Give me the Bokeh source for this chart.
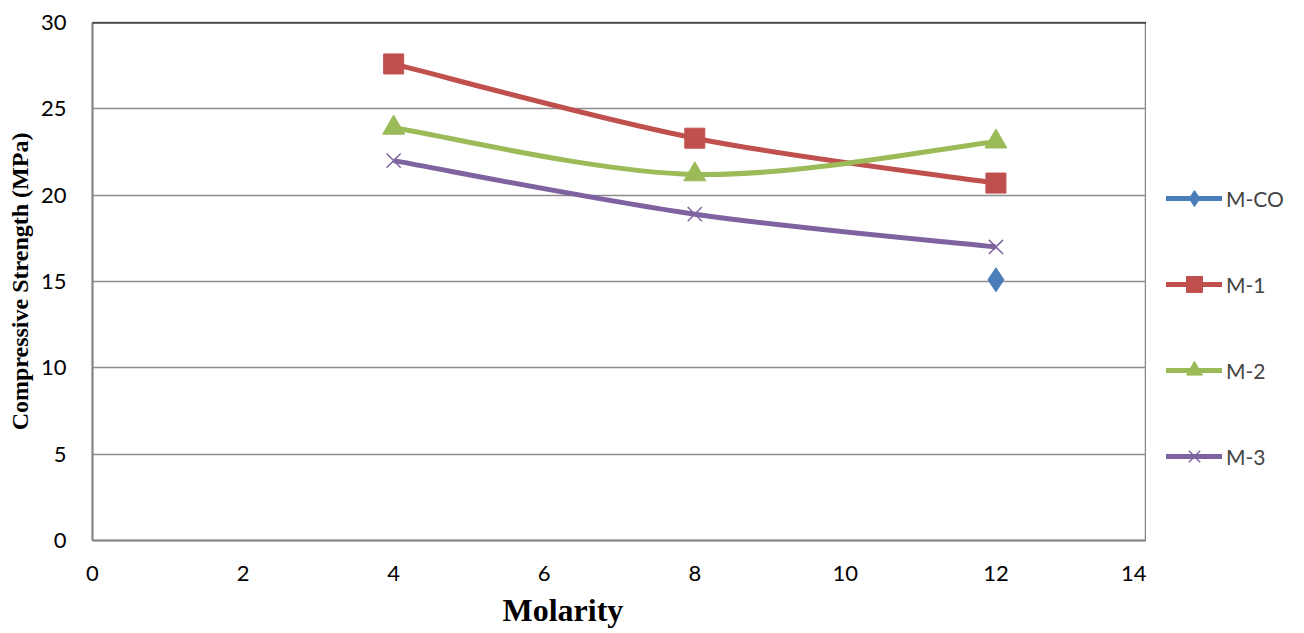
from bokeh.plotting import figure
from bokeh.layouts import row
from bokeh.models import Legend, LegendItem, Span, Title, FixedTicker
from bokeh.embed import file_html
from bokeh.resources import INLINE

# ---- data ----
molarity = [4, 8, 12]
m_co_x = [12]
m_co = [15.1]
m1 = [27.6, 23.3, 20.7]
m2 = [23.9, 21.2, 23.1]
m3 = [22.0, 18.9, 17.0]
series_names = ["M-CO", "M-1", "M-2", "M-3"]
colors = ["#4A7EBB", "#C0504D", "#9BBB59", "#7F63A1"]

H = 633
p = figure(width=1146, height=H, output_backend="svg", toolbar_location=None,
           x_range=(0, 14), y_range=(0, 30),
           min_border_left=92, min_border_right=0, min_border_top=22, min_border_bottom=93)
p.xaxis.ticker = FixedTicker(ticks=[0, 2, 4, 6, 8, 10, 12, 14])
p.yaxis.ticker = FixedTicker(ticks=[0, 5, 10, 15, 20, 25, 30])
p.xgrid.visible = False
p.ygrid.grid_line_color = "#8C8C8C"
p.ygrid.grid_line_width = 1.5
for ax in (p.xaxis[0], p.yaxis[0]):
    ax.axis_line_color = "#868686"
    ax.axis_line_width = 2
    ax.major_tick_line_color = None
    ax.minor_tick_line_color = None
    ax.major_label_text_font = "Lato"
    ax.major_label_text_font_size = "22px"
    ax.major_label_text_color = "black"
p.yaxis.major_label_standoff = 20
p.xaxis.major_label_standoff = 19
p.yaxis.axis_label = "Compressive Strength (MPa)"
p.yaxis.axis_label_text_font = "Liberation Serif"
p.yaxis.axis_label_text_font_style = "bold"
p.yaxis.axis_label_text_font_size = "24px"
p.yaxis.axis_label_text_color = "black"
p.yaxis.axis_label_standoff = 5
p.outline_line_color = "#868686"
p.outline_line_width = 1.5
p.add_layout(Span(location=30, dimension="width", line_color="black", line_width=2))

p.add_layout(Title(text="Molarity", text_font="Liberation Serif", text_font_style="bold",
                   text_font_size="32px", text_color="black", align="left", offset=410,
                   standoff=12), "below")


def bez(xs, ys):
    n = len(xs)
    x0, y0, x1, y1, cx0, cy0, cx1, cy1 = ([] for _ in range(8))
    for i in range(n - 1):
        pm = max(i - 1, 0)
        pp = min(i + 2, n - 1)
        x0.append(xs[i]); y0.append(ys[i]); x1.append(xs[i + 1]); y1.append(ys[i + 1])
        cx0.append(xs[i] + (xs[i + 1] - xs[pm]) / 6)
        cy0.append(ys[i] + (ys[i + 1] - ys[pm]) / 6)
        cx1.append(xs[i + 1] - (xs[pp] - xs[i]) / 6)
        cy1.append(ys[i + 1] - (ys[pp] - ys[i]) / 6)
    return dict(x0=x0, y0=y0, x1=x1, y1=y1, cx0=cx0, cy0=cy0, cx1=cx1, cy1=cy1)


# legend figure
lf = figure(width=150, height=H, output_backend="svg", toolbar_location=None,
            x_range=(0, 1), y_range=(0, 1), min_border=0)
lf.axis.visible = False
lf.grid.visible = False
lf.outline_line_color = None

items = []
all_x = [m_co_x, molarity, molarity, molarity]
all_y = [m_co, m1, m2, m3]
markers = ["diamond", "square", "triangle", "x"]
sizes = [24, 20, 22, 20]
for name, xs, ys, c, mk, sz in zip(series_names, all_x, all_y, colors, markers, sizes):
    if len(xs) > 1:
        p.bezier(source=bez(xs, ys), line_color=c, line_width=5)
    if mk == "x":
        p.scatter(xs, ys, marker=mk, size=sz, line_color=c, line_width=1.5)
        sr = lf.scatter([-10], [-10], marker=mk, size=sz, line_color=c, line_width=1.5)
    else:
        p.scatter(xs, ys, marker=mk, size=sz, fill_color=c, line_color=c)
        sr = lf.scatter([-10], [-10], marker=mk, size=sz, fill_color=c, line_color=c)
    lr = lf.line([-10, -11], [-10, -11], line_color=c, line_width=5, line_cap="round")
    items.append(LegendItem(label=name, renderers=[lr, sr]))

leg = Legend(items=items, location=(20, 64), padding=0, margin=0, spacing=46,
             glyph_width=56, glyph_height=40, label_standoff=4,
             label_text_font="Lato", label_text_font_size="21px",
             border_line_color=None, background_fill_alpha=0)
lf.add_layout(leg, "center")

open("out.html", "w").write(file_html(row(p, lf), INLINE))
